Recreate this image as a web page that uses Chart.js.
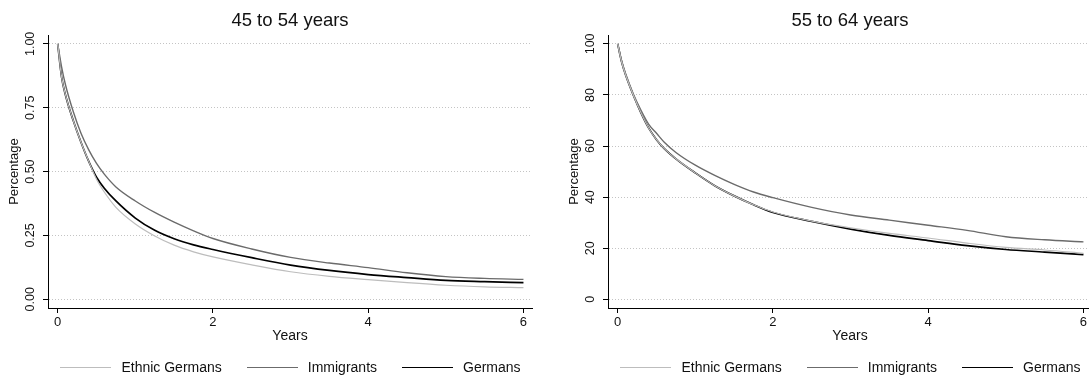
<!DOCTYPE html>
<html>
<head>
<meta charset="utf-8">
<script src="https://cdn.jsdelivr.net/npm/chart.js@4/dist/chart.umd.min.js"></script>
<style>
  html, body { margin: 0; padding: 0; background: #fff; overflow: hidden; }
  body { width: 1089px; height: 376px; position: relative; font-family: "Liberation Sans", Arial, sans-serif; }
  .panel { position: absolute; top: 0; width: 580px; height: 376px; }
  .panel canvas { position: absolute; left: 0; top: 0; }
  .legend { position: absolute; left: 2px; width: 577px; top: 358px; height: 18px;
            display: flex; justify-content: center; align-items: center; font-size: 14px; color: #111; }
  .legend .item { display: flex; align-items: center; margin: 0 12.5px; white-space: nowrap; }
  .legend .swatch { width: 51px; height: 0; margin-right: 10px; }
</style>
</head>
<body>
<div class="panel" style="left:0px"><canvas id="c45"></canvas><div class="legend" id="l45"></div></div>
<div class="panel" style="left:560px"><canvas id="c55"></canvas><div class="legend" id="l55"></div></div>
<script>
// ---- data: share remaining (survival curves) by years since start ----
const years = [0, 0.05, 0.1, 0.2, 0.3, 0.4, 0.5, 0.6, 0.75, 1, 1.25, 1.5, 1.75, 2, 2.5, 3, 3.5, 4, 4.5, 5, 5.5, 6];

// 45 to 54 years (share, 0..1)
const ethnic45 = [1, 0.87, 0.80, 0.70, 0.615, 0.54, 0.47, 0.42, 0.36, 0.295, 0.248, 0.212, 0.186, 0.166, 0.135, 0.108, 0.09, 0.077, 0.065, 0.055, 0.049, 0.046];
const immig45  = [1, 0.91, 0.84, 0.735, 0.65, 0.585, 0.532, 0.49, 0.44, 0.385, 0.34, 0.302, 0.268, 0.238, 0.197, 0.164, 0.142, 0.124, 0.104, 0.089, 0.082, 0.078];
const germ45   = [1, 0.87, 0.80, 0.70, 0.615, 0.54, 0.478, 0.435, 0.385, 0.318, 0.27, 0.237, 0.213, 0.195, 0.163, 0.134, 0.113, 0.097, 0.085, 0.074, 0.069, 0.065];

// 55 to 64 years (percent)
const ethnic55 = [100, 93, 88, 80, 73, 67, 62.5, 59, 55, 49.5, 44.5, 40.5, 37, 34.2, 30.6, 28, 25.8, 24, 22, 20.3, 19.3, 18];
const immig55  = [100, 93.5, 88.5, 80.5, 74, 68.5, 65, 61.5, 57.5, 52.5, 48.5, 45, 42, 39.8, 36, 33, 31, 29, 27, 24.5, 23.3, 22.5];
const germ55   = [100, 93, 88, 80, 73, 67, 62.5, 59, 55, 49.5, 44.5, 40.5, 37, 34, 30.5, 27.5, 25, 23, 21, 19.5, 18.5, 17.5];

const xTicks = [0, 2, 4, 6];
const yTicks45 = [0, 0.25, 0.5, 0.75, 1];
const yTicks55 = [0, 20, 40, 60, 80, 100];

const seriesNames = ['Ethnic Germans', 'Immigrants', 'Germans'];
const seriesColors = ['#bdbdbd', '#6b6b6b', '#000000'];
const seriesWidths = [1.2, 1.4, 1.7];

const FONT = '"Liberation Sans", Arial, sans-serif';

function pts(vals) {
  return years.map((x, i) => ({ x: x, y: vals[i] }));
}

function buildChart(id, legendId, title, series, yTicks, yMin, yMax, decimals, tickPad) {
  const datasets = series.map((vals, i) => ({
    label: seriesNames[i],
    data: pts(vals),
    borderColor: seriesColors[i],
    borderWidth: seriesWidths[i],
    pointRadius: 0,
    cubicInterpolationMode: 'monotone',
    fill: false
  }));

  const canvas = document.getElementById(id);
  canvas.width = 580;
  canvas.height = 376;

  new Chart(canvas, {
    type: 'line',
    data: { datasets: datasets },
    options: {
      responsive: false,
      animation: false,
      layout: { padding: { top: 0, left: 0, right: 0, bottom: 28 } },
      plugins: {
        legend: { display: false },
        tooltip: { enabled: false },
        title: {
          display: true,
          text: title,
          color: '#111',
          font: { family: FONT, size: 18.5, weight: 'normal', lineHeight: 1.2 },
          padding: { top: 10, bottom: 3 }
        }
      },
      scales: {
        x: {
          type: 'linear',
          min: -0.125,
          max: 6.11,
          afterBuildTicks: s => { s.ticks = xTicks.map(v => ({ value: v })); },
          afterFit: s => { s.height = 40; },
          ticks: { color: '#111', padding: 2, font: { family: FONT, size: 13 }, maxRotation: 0 },
          grid: { drawOnChartArea: false, drawTicks: true, tickLength: 5, tickColor: '#000', tickWidth: 1 },
          border: { display: true, color: '#000', width: 1 },
          title: {
            display: true, text: 'Years', color: '#111',
            font: { family: FONT, size: 14, lineHeight: 1.2 },
            padding: { top: 0, bottom: 3 }
          }
        },
        y: {
          type: 'linear',
          min: yMin,
          max: yMax,
          afterBuildTicks: s => { s.ticks = yTicks.map(v => ({ value: v })); },
          afterFit: s => { s.width = 48; },
          ticks: {
            color: '#111', padding: tickPad, minRotation: 90, maxRotation: 90,
            crossAlign: 'center',
            font: { family: FONT, size: 12.5 },
            callback: v => v.toFixed(decimals)
          },
          grid: {
            color: '#c4c4c4', lineWidth: 1, drawTicks: true, tickLength: 5,
            tickColor: '#000', tickWidth: 1, tickBorderDash: []
          },
          border: { display: true, color: '#000', width: 1, dash: [1, 2] },
          title: {
            display: true, text: 'Percentage', color: '#111',
            font: { family: FONT, size: 13, lineHeight: 1.2 },
            padding: { top: 7, bottom: 0 }
          }
        },
        // empty right-hand axis keeps the plot area centred under the title
        yPad: {
          type: 'linear',
          position: 'right',
          display: true,
          afterFit: s => { s.width = 48; },
          ticks: { display: false },
          grid: { display: false, drawTicks: false },
          border: { display: false }
        }
      }
    }
  });

  // legend with line swatches
  const legend = document.getElementById(legendId);
  seriesNames.forEach((name, i) => {
    const item = document.createElement('div');
    item.className = 'item';
    const sw = document.createElement('span');
    sw.className = 'swatch';
    sw.style.borderTop = seriesWidths[i] + 'px solid ' + seriesColors[i];
    const tx = document.createElement('span');
    tx.textContent = name;
    item.appendChild(sw);
    item.appendChild(tx);
    legend.appendChild(item);
  });
}

buildChart('c45', 'l45', '45 to 54 years', [ethnic45, immig45, germ45], yTicks45, -0.034, 1.034, 2, 0);
buildChart('c55', 'l55', '55 to 64 years', [ethnic55, immig55, germ55], yTicks55, -3.4, 103.4, 0, 2);
</script>
</body>
</html>
